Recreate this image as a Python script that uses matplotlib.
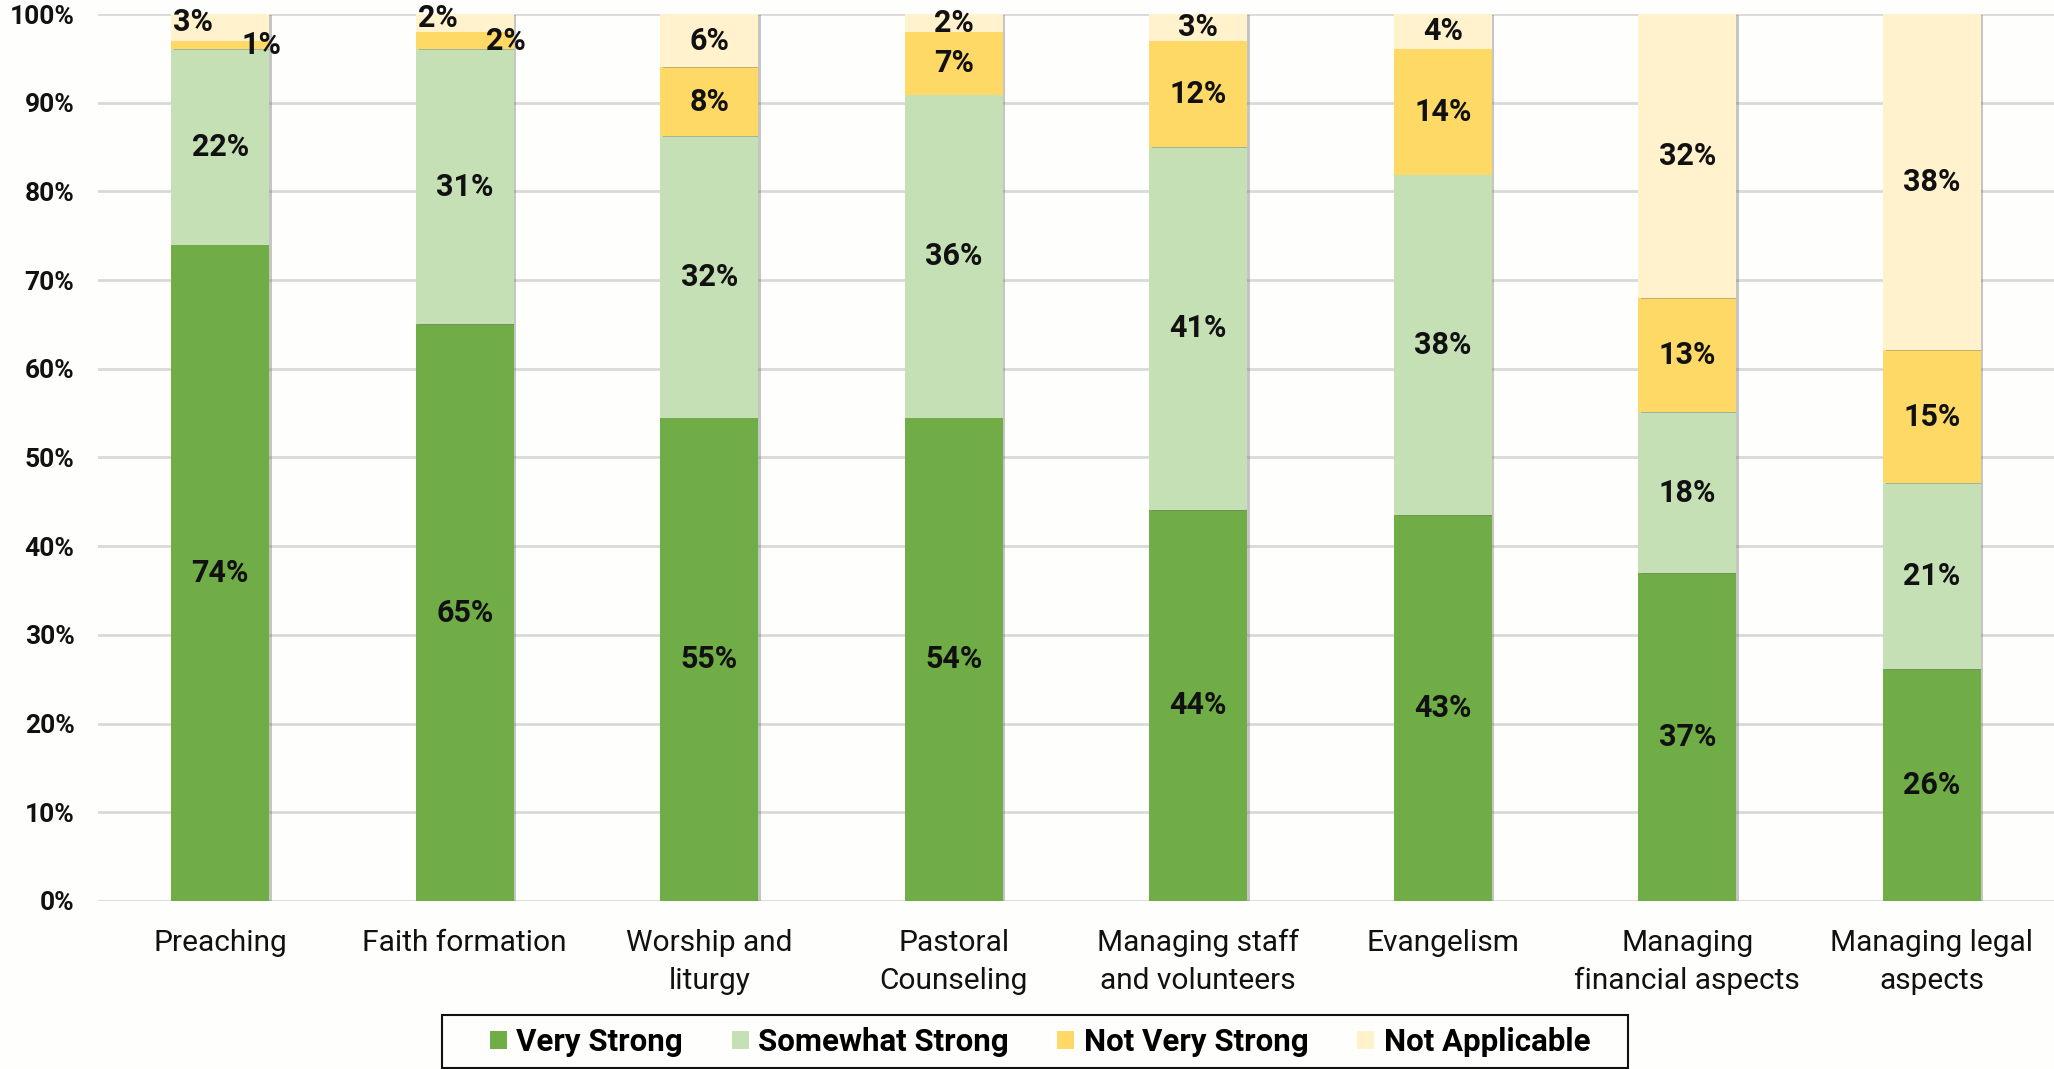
import matplotlib
matplotlib.use("Agg")
import matplotlib.pyplot as plt
import numpy as np
from matplotlib.patches import Patch, Rectangle
import matplotlib.patheffects as pe

plt.rcParams['font.family'] = ['Roboto', 'DejaVu Sans']

categories = ["Preaching", "Faith formation", "Worship and\nliturgy", "Pastoral\nCounseling",
              "Managing staff\nand volunteers", "Evangelism", "Managing\nfinancial aspects",
              "Managing legal\naspects"]
series = ["Very Strong", "Somewhat Strong", "Not Very Strong", "Not Applicable"]
very_strong     = [74.0, 65.0, 54.5, 54.5, 44.1, 43.5, 37.0, 26.1]
somewhat_strong = [22.0, 31.0, 31.7, 36.4, 40.9, 38.4, 18.1, 21.0]
not_very_strong = [1.0, 2.0, 7.8, 7.1, 12.0, 14.2, 12.9, 15.0]
not_applicable  = [3.0, 2.0, 6.0, 2.0, 3.0, 3.9, 32.0, 37.9]
label_vs  = [74, 65, 55, 54, 44, 43, 37, 26]
label_ss  = [22, 31, 32, 36, 41, 38, 18, 21]
label_nvs = [1, 2, 8, 7, 12, 14, 13, 15]
label_na  = [3, 2, 6, 2, 3, 4, 32, 38]
yticks = [0, 10, 20, 30, 40, 50, 60, 70, 80, 90, 100]

colors = ["#70AD47", "#C5E0B4", "#FFD966", "#FFF2CC"]
values = [very_strong, somewhat_strong, not_very_strong, not_applicable]
labels = [label_vs, label_ss, label_nvs, label_na]

fig = plt.figure(figsize=(20.54, 10.69), dpi=100)
fig.patch.set_facecolor("#FEFEFD")
ax = fig.add_axes([98/2054, 1-901/1069, 1-98/2054, (901-14)/1069])
ax.set_facecolor("#FEFEFD")

x = np.arange(len(categories))
width = 0.4
bottom = np.zeros(len(categories))
shadow = [pe.SimplePatchShadow(offset=(2.0, -0.5), shadow_rgbFace="#707070", alpha=0.4), pe.Normal()]
for vals, col in zip(values, colors):
    vals = np.array(vals)
    bars = ax.bar(x, vals, width, bottom=bottom, color=col, zorder=3)
    for b in bars:
        b.set_path_effects(shadow)
    bottom = bottom + vals

# data labels
bottom = np.zeros(len(categories))
for si, (vals, labs) in enumerate(zip(values, labels)):
    vals = np.array(vals)
    for i in range(len(categories)):
        yc = bottom[i] + vals[i] / 2
        xc = x[i]
        if i in (0, 1) and si == 2:
            xc = x[i] + 0.17
            yc = bottom[i] + vals[i] / 2 + 0.0
        if i in (0, 1) and si == 3:
            xc = x[i] - 0.11
            yc = bottom[i] + vals[i] / 2 + 0.6
        ax.text(xc, yc, f"{labs[i]}%", ha="center", va="center", fontsize=22,
                fontweight="bold", color="#111111", zorder=5)
    bottom = bottom + vals

ax.set_xlim(-0.5, 7.5)
ax.set_ylim(0, 100)
ax.set_yticks(yticks)
ax.set_yticklabels([f"{t}%" for t in yticks], fontsize=19, fontweight="bold", color="#111111")
ax.set_xticks(x)
ax.set_xticklabels(categories, fontsize=21.5, color="#111111", linespacing=1.45)
ax.tick_params(axis="y", length=0, pad=17)
ax.tick_params(axis="x", length=0, pad=20)
ax.grid(axis="y", color="#D9D9D9", linewidth=2, zorder=0)
for s in ax.spines.values():
    s.set_visible(False)

# legend box
box = Rectangle((442/2054, 1-1068/1069), (1628-442)/2054, (1068-1015)/1069,
                transform=fig.transFigure, facecolor="none", edgecolor="#111111",
                linewidth=1.5, zorder=1)
fig.patches.append(box)

handles = [Patch(facecolor=c, edgecolor="none", label=s) for c, s in zip(colors, series)]
leg = fig.legend(handles=handles, loc="center", bbox_to_anchor=(1040/2054, 1-1042/1069),
                 ncol=4, frameon=False, prop={"size": 22.5, "weight": "bold"},
                 handlelength=0.55, handleheight=0.55, handletextpad=0.3, columnspacing=1.55,
                 borderpad=0.0)

fig.savefig("out.png", dpi=100, facecolor=fig.get_facecolor())
